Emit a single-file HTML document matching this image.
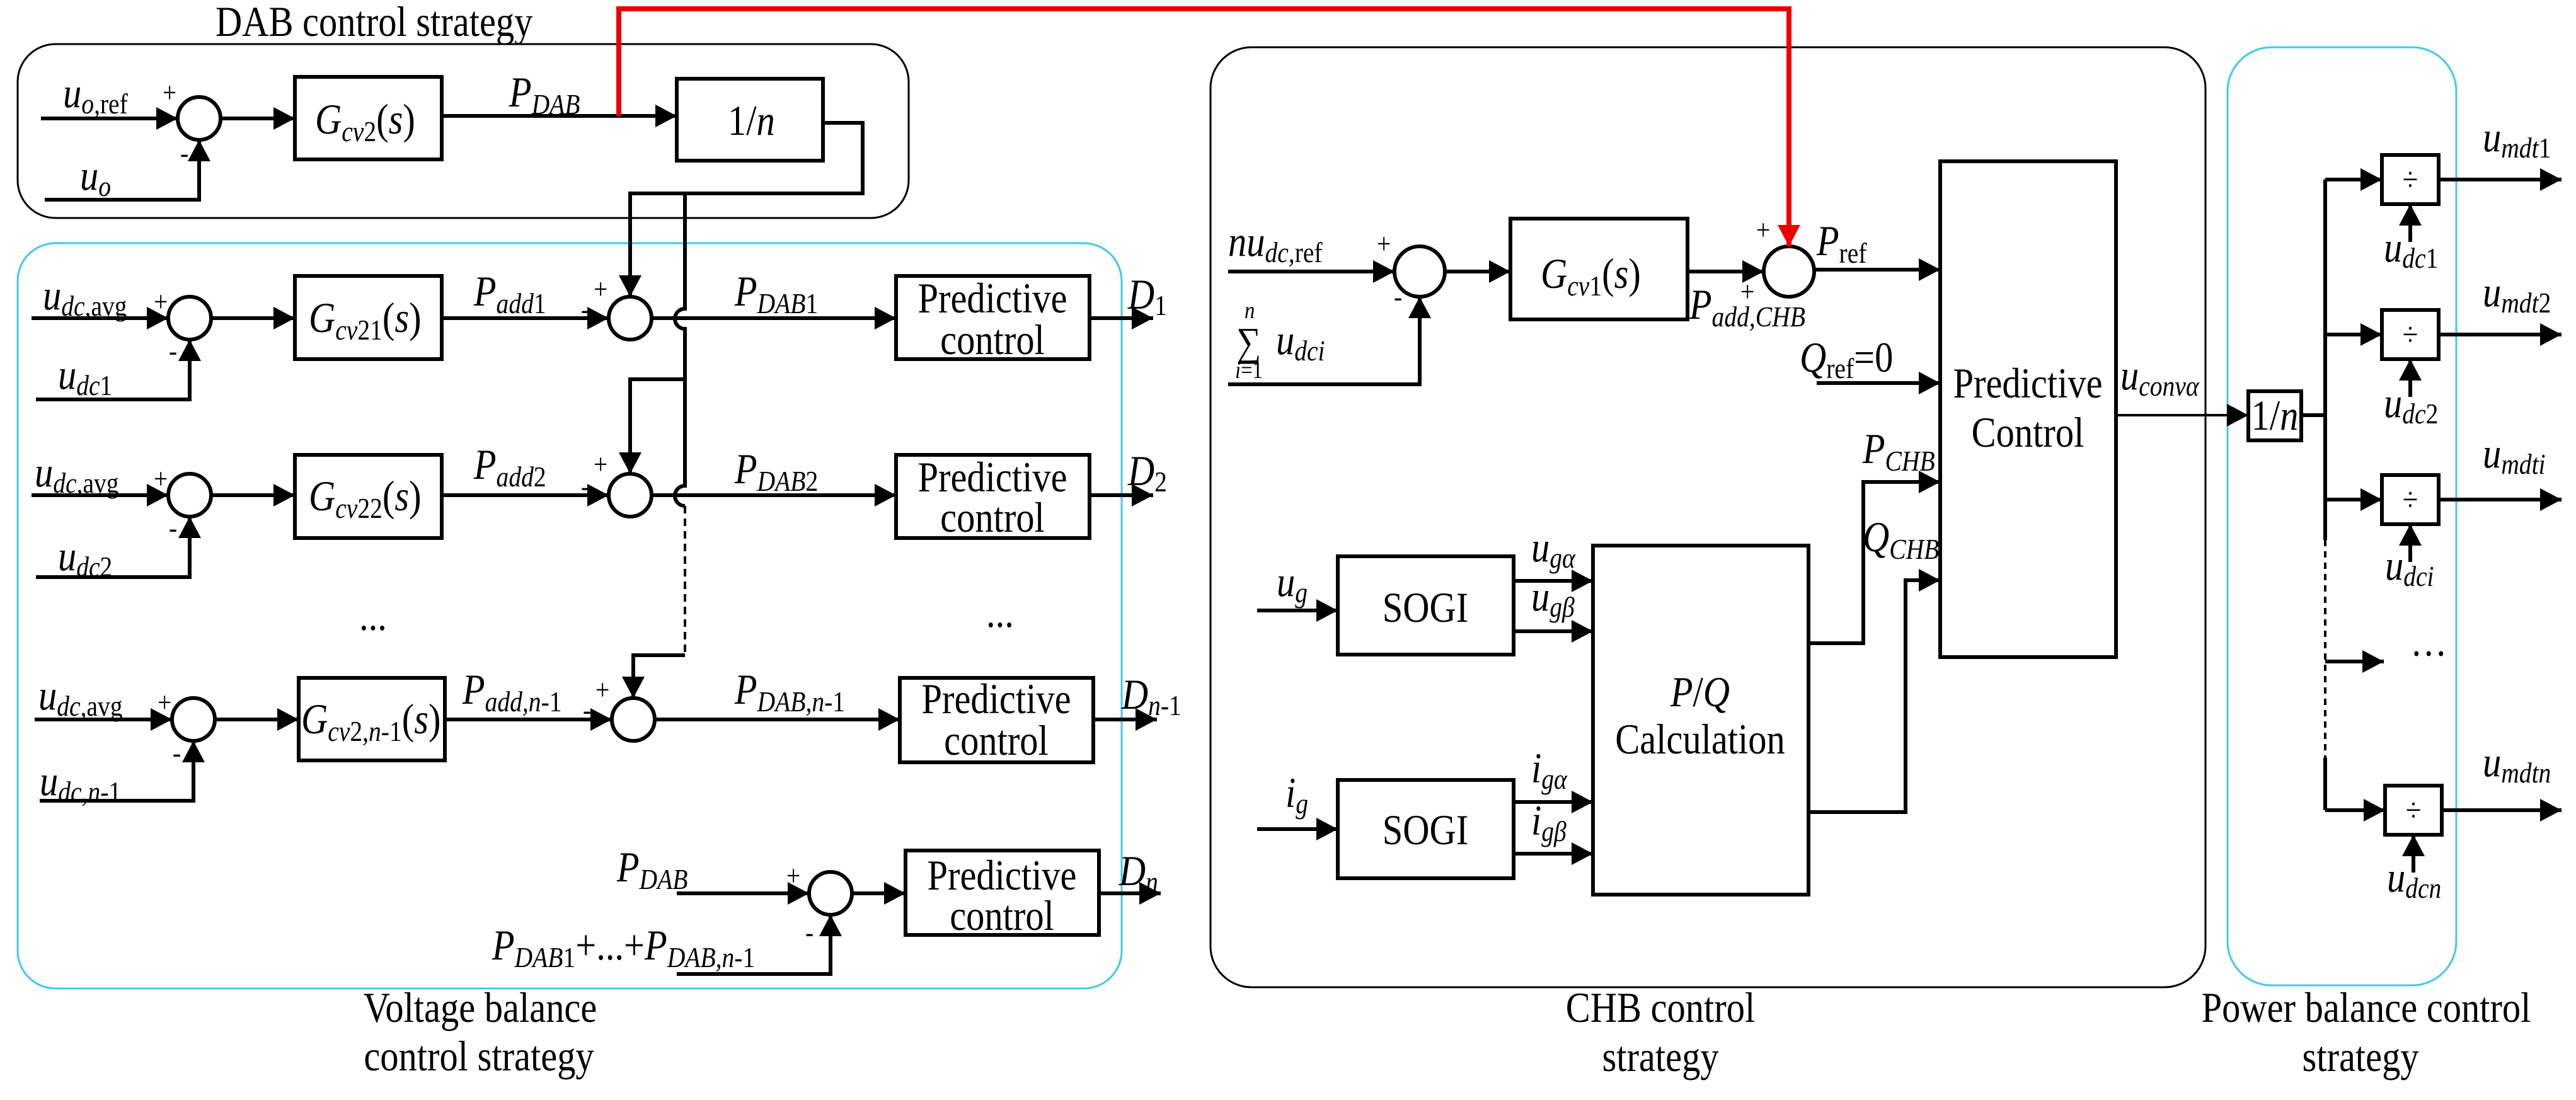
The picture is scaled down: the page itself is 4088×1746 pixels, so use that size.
<!DOCTYPE html>
<html><head><meta charset="utf-8"><style>
html,body{margin:0;padding:0;background:#fff;}
svg{display:block;}
text{font-family:"Liberation Serif","Times New Roman",serif;fill:#000;transform-box:fill-box;transform-origin:0% 50%;transform:scaleX(0.86);}
text.m{transform-origin:50% 50%;}
.i{font-style:italic;}
</style></head><body>
<svg width="4088" height="1746" viewBox="0 0 4088 1746" xmlns="http://www.w3.org/2000/svg">
<defs>
<marker id="a" markerUnits="userSpaceOnUse" markerWidth="34" markerHeight="36" refX="34" refY="18" orient="auto"><path d="M0,0 L34,18 L0,36z" fill="#000"/></marker>
<marker id="r" markerUnits="userSpaceOnUse" markerWidth="34" markerHeight="36" refX="34" refY="18" orient="auto"><path d="M0,0 L34,18 L0,36z" fill="#e00"/></marker>
</defs>
<g fill="none" stroke="#000" stroke-width="6">
<rect x="28" y="70" width="1414" height="276" rx="60" stroke-width="3"/>
<rect x="28" y="386" width="1752" height="1183" rx="60" stroke="#3ccbe8" stroke-width="3"/>
<rect x="1921" y="75" width="1579" height="1492" rx="65" stroke-width="3"/>
<rect x="3535" y="75" width="363" height="1489" rx="70" stroke="#3ccbe8" stroke-width="3"/>

<path d="M65,188 H282" marker-end="url(#a)"/>
<path d="M71,317 H316 V222" marker-end="url(#a)"/>
<circle cx="316" cy="188" r="34"/>
<path d="M350,188 H468" marker-end="url(#a)"/>
<rect x="468" y="122" width="233" height="131"/>
<path d="M701,184 H1074" marker-end="url(#a)"/>
<rect x="1074" y="125" width="232" height="130"/>
<path d="M1306,195 H1369 V307 H1000 V471" marker-end="url(#a)"/>
<path d="M1087,307 V490 A16,16 0 0 0 1087,522 V771 A16,16 0 0 0 1087,803"/>
<path d="M1087,602 H1000 V752" marker-end="url(#a)"/>
<path d="M1087,803 V1040" stroke-dasharray="12,8" stroke-width="4"/>
<path d="M1087,1040 H1005 V1108" marker-end="url(#a)"/>

<path d="M50,505 H267" marker-end="url(#a)"/>
<path d="M57,634 H301 V539" marker-end="url(#a)"/>
<circle cx="301" cy="505" r="34"/>
<path d="M335,505 H468" marker-end="url(#a)"/>
<rect x="468" y="438" width="233" height="132"/>
<path d="M701,505 H966" marker-end="url(#a)"/>
<circle cx="1000" cy="505" r="34"/>
<path d="M1034,505 H1422" marker-end="url(#a)"/>
<rect x="1422" y="438" width="307" height="132"/>
<path d="M1729,505 H1830" marker-end="url(#a)"/>

<path d="M50,786 H267" marker-end="url(#a)"/>
<path d="M57,916 H301 V820" marker-end="url(#a)"/>
<circle cx="301" cy="786" r="34"/>
<path d="M335,786 H468" marker-end="url(#a)"/>
<rect x="468" y="722" width="233" height="132"/>
<path d="M701,786 H966" marker-end="url(#a)"/>
<circle cx="1000" cy="786" r="34"/>
<path d="M1034,786 H1422" marker-end="url(#a)"/>
<rect x="1422" y="722" width="307" height="132"/>
<path d="M1729,786 H1830" marker-end="url(#a)"/>

<path d="M55,1142 H273" marker-end="url(#a)"/>
<path d="M63,1271 H307 V1176" marker-end="url(#a)"/>
<circle cx="307" cy="1142" r="34"/>
<path d="M341,1142 H474" marker-end="url(#a)"/>
<rect x="474" y="1076" width="232" height="131"/>
<path d="M706,1142 H971" marker-end="url(#a)"/>
<circle cx="1005" cy="1142" r="34"/>
<path d="M1039,1142 H1428" marker-end="url(#a)"/>
<rect x="1428" y="1076" width="307" height="134"/>
<path d="M1735,1142 H1836" marker-end="url(#a)"/>

<path d="M1074,1418 H1284" marker-end="url(#a)"/>
<path d="M1074,1546 H1318 V1452" marker-end="url(#a)"/>
<circle cx="1318" cy="1418" r="34"/>
<path d="M1352,1418 H1437" marker-end="url(#a)"/>
<rect x="1437" y="1350" width="307" height="134"/>
<path d="M1744,1418 H1842" marker-end="url(#a)"/>

<path d="M1949,431 H2213" marker-end="url(#a)"/>
<path d="M1949,610 H2253 V471" marker-end="url(#a)"/>
<circle cx="2253" cy="431" r="40"/>
<path d="M2293,431 H2397" marker-end="url(#a)"/>
<rect x="2397" y="347" width="281" height="160"/>
<path d="M2678,431 H2799" marker-end="url(#a)"/>
<circle cx="2839" cy="431" r="40"/>
<path d="M2879,428 H3079" marker-end="url(#a)"/>
<path d="M2883,608 H3079" marker-end="url(#a)"/>
<rect x="3079" y="256" width="279" height="787"/>
<path d="M2870,1021 H2957 V765 H3079" marker-end="url(#a)"/>
<path d="M2870,1289 H3024 V921 H3079" marker-end="url(#a)"/>
<rect x="2123" y="883" width="279" height="156"/>
<path d="M1995,969 H2123" marker-end="url(#a)"/>
<path d="M2402,922 H2528" marker-end="url(#a)"/>
<path d="M2402,1002 H2528" marker-end="url(#a)"/>
<rect x="2528" y="866" width="342" height="554"/>
<rect x="2123" y="1238" width="279" height="156"/>
<path d="M1995,1316 H2123" marker-end="url(#a)"/>
<path d="M2402,1273 H2528" marker-end="url(#a)"/>
<path d="M2402,1355 H2528" marker-end="url(#a)"/>

<path d="M3358,659 H3568" marker-end="url(#a)" stroke-width="4"/>
<rect x="3568" y="621" width="84" height="78"/>
<path d="M3652,659 H3690"/>
<path d="M3690,285 V857"/>
<path d="M3690,857 V1203" stroke-dasharray="10,8" stroke-width="4"/>
<path d="M3690,1203 V1286"/>
<path d="M3690,285 H3780" marker-end="url(#a)"/>
<path d="M3690,531 H3780" marker-end="url(#a)"/>
<path d="M3690,793 H3780" marker-end="url(#a)"/>
<path d="M3690,1050 H3783" marker-end="url(#a)"/>
<path d="M3690,1286 H3785" marker-end="url(#a)"/>
<rect x="3780" y="246" width="90" height="78"/>
<rect x="3780" y="492" width="90" height="78"/>
<rect x="3780" y="754" width="90" height="78"/>
<rect x="3785" y="1247" width="90" height="78"/>
<path d="M3825,384 V324" marker-end="url(#a)"/>
<path d="M3825,630 V570" marker-end="url(#a)"/>
<path d="M3825,892 V832" marker-end="url(#a)"/>
<path d="M3830,1385 V1325" marker-end="url(#a)"/>
<path d="M3870,285 H4065" marker-end="url(#a)"/>
<path d="M3870,531 H4065" marker-end="url(#a)"/>
<path d="M3870,793 H4065" marker-end="url(#a)"/>
<path d="M3875,1286 H4065" marker-end="url(#a)"/>

<path d="M982,184 V14 H2839 V391" stroke="#e00" stroke-width="8" marker-end="url(#r)"/>
</g>

<g font-size="68">
<text x="342" y="57">DAB control strategy</text>
<text class="i" x="100" y="170">u<tspan font-size="46" dy="10">o,</tspan><tspan font-size="46" font-style="normal">ref</tspan></text>
<text x="258" y="162" font-size="46">+</text>
<text x="286" y="258" font-size="46">-</text>
<text class="i" x="127" y="301">u<tspan font-size="46" dy="10">o</tspan></text>
<text class="i" x="500" y="212">G<tspan font-size="46" dy="12">cv</tspan><tspan font-size="46" font-style="normal">2</tspan><tspan dy="-12" font-style="normal">(</tspan>s<tspan font-style="normal">)</tspan></text>
<text class="i" x="808" y="169">P<tspan font-size="46" dy="12">DAB</tspan></text>
<text x="1155" y="214">1/<tspan class="i">n</tspan></text>

<text class="i" x="68" y="491">u<tspan font-size="46" dy="10">dc,</tspan><tspan font-size="46" font-style="normal">avg</tspan></text>
<text x="244" y="494" font-size="46">+</text>
<text x="268" y="572" font-size="46">-</text>
<text class="i" x="92" y="617">u<tspan font-size="46" dy="10">dc</tspan><tspan font-size="46" font-style="normal">1</tspan></text>
<text class="i" x="490" y="527">G<tspan font-size="46" dy="12">cv</tspan><tspan font-size="46" font-style="normal">21</tspan><tspan dy="-12" font-style="normal">(</tspan>s<tspan font-style="normal">)</tspan></text>
<text class="i" x="752" y="485">P<tspan font-size="46" dy="12">add</tspan><tspan font-size="46" font-style="normal">1</tspan></text>
<text x="942" y="474" font-size="46">+</text>
<text x="922" y="506" font-size="46">-</text>
<text class="i" x="1166" y="485">P<tspan font-size="46" dy="12">DAB</tspan><tspan font-size="46" font-style="normal">1</tspan></text>
<text class="m" x="1575" y="496" text-anchor="middle">Predictive</text>
<text class="m" x="1575" y="562" text-anchor="middle">control</text>
<text class="i" x="1790" y="490">D<tspan font-size="46" dy="10" font-style="normal">1</tspan></text>

<text class="i" x="55" y="772">u<tspan font-size="46" dy="10">dc,</tspan><tspan font-size="46" font-style="normal">avg</tspan></text>
<text x="244" y="775" font-size="46">+</text>
<text x="268" y="853" font-size="46">-</text>
<text class="i" x="92" y="905">u<tspan font-size="46" dy="10">dc</tspan><tspan font-size="46" font-style="normal">2</tspan></text>
<text class="i" x="490" y="810">G<tspan font-size="46" dy="12">cv</tspan><tspan font-size="46" font-style="normal">22</tspan><tspan dy="-12" font-style="normal">(</tspan>s<tspan font-style="normal">)</tspan></text>
<text class="i" x="752" y="760">P<tspan font-size="46" dy="12">add</tspan><tspan font-size="46" font-style="normal">2</tspan></text>
<text x="942" y="752" font-size="46">+</text>
<text x="922" y="787" font-size="46">-</text>
<text class="i" x="1166" y="767">P<tspan font-size="46" dy="12">DAB</tspan><tspan font-size="46" font-style="normal">2</tspan></text>
<text class="m" x="1575" y="780" text-anchor="middle">Predictive</text>
<text class="m" x="1575" y="844" text-anchor="middle">control</text>
<text class="i" x="1790" y="770">D<tspan font-size="46" dy="10" font-style="normal">2</tspan></text>

<text x="570" y="1000">...</text>
<text x="1565" y="995">...</text>

<text class="i" x="61" y="1126">u<tspan font-size="46" dy="10">dc,</tspan><tspan font-size="46" font-style="normal">avg</tspan></text>
<text x="250" y="1130" font-size="46">+</text>
<text x="274" y="1210" font-size="46">-</text>
<text class="i" x="63" y="1262">u<tspan font-size="46" dy="10">dc,n</tspan><tspan font-size="46" font-style="normal">-1</tspan></text>
<text class="i" x="478" y="1164">G<tspan font-size="46" dy="12">cv</tspan><tspan font-size="46" font-style="normal">2,</tspan><tspan font-size="46">n</tspan><tspan font-size="46" font-style="normal">-1</tspan><tspan dy="-12" font-style="normal">(</tspan>s<tspan font-style="normal">)</tspan></text>
<text class="i" x="734" y="1117">P<tspan font-size="46" dy="12">add,n</tspan><tspan font-size="46" font-style="normal">-1</tspan></text>
<text x="945" y="1110" font-size="46">+</text>
<text x="925" y="1142" font-size="46">-</text>
<text class="i" x="1166" y="1117">P<tspan font-size="46" dy="12">DAB,n</tspan><tspan font-size="46" font-style="normal">-1</tspan></text>
<text class="m" x="1581" y="1132" text-anchor="middle">Predictive</text>
<text class="m" x="1581" y="1198" text-anchor="middle">control</text>
<text class="i" x="1780" y="1125">D<tspan font-size="46" dy="10">n</tspan><tspan font-size="46" font-style="normal">-1</tspan></text>

<text class="i" x="979" y="1399">P<tspan font-size="46" dy="12">DAB</tspan></text>
<text x="1248" y="1405" font-size="46">+</text>
<text x="1278" y="1495" font-size="46">-</text>
<text class="i" x="781" y="1523">P<tspan font-size="46" dy="12">DAB</tspan><tspan font-size="46" font-style="normal">1</tspan><tspan dy="-12" font-style="normal">+...+</tspan>P<tspan font-size="46" dy="12">DAB,n</tspan><tspan font-size="46" font-style="normal">-1</tspan></text>
<text class="m" x="1590" y="1412" text-anchor="middle">Predictive</text>
<text class="m" x="1590" y="1476" text-anchor="middle">control</text>
<text class="i" x="1776" y="1405">D<tspan font-size="46" dy="10">n</tspan></text>

<text class="m" x="762" y="1622" text-anchor="middle">Voltage balance</text>
<text class="m" x="760" y="1699" text-anchor="middle">control strategy</text>

<text class="i" x="1949" y="406">nu<tspan font-size="46" dy="10">dc,</tspan><tspan font-size="46" font-style="normal">ref</tspan></text>
<text x="2185" y="402" font-size="46">+</text>
<text x="2212" y="486" font-size="46">-</text>
<text x="1962" y="564" font-size="64">∑</text>
<text class="i" x="1975" y="505" font-size="38">n</text>
<text class="i" x="1960" y="600" font-size="38">i<tspan font-style="normal">=1</tspan></text>
<text class="i" x="2025" y="562">u<tspan font-size="46" dy="10">dci</tspan></text>
<text class="i" x="2445" y="457">G<tspan font-size="46" dy="12">cv</tspan><tspan font-size="46" font-style="normal">1</tspan><tspan dy="-12" font-style="normal">(</tspan>s<tspan font-style="normal">)</tspan></text>
<text x="2787" y="380" font-size="46">+</text>
<text x="2762" y="478" font-size="46">+</text>
<text class="i" x="2681" y="506">P<tspan font-size="46" dy="12">add,CHB</tspan></text>
<text class="i" x="2883" y="405">P<tspan font-size="46" dy="12" font-style="normal">ref</tspan></text>
<text class="i" x="2856" y="590">Q<tspan font-size="46" dy="10" font-style="normal">ref</tspan><tspan dy="-10" font-style="normal">=0</tspan></text>
<text class="i" x="2956" y="735">P<tspan font-size="46" dy="12">CHB</tspan></text>
<text class="i" x="2956" y="875">Q<tspan font-size="46" dy="12">CHB</tspan></text>
<text class="m" x="3218" y="631" text-anchor="middle">Predictive</text>
<text class="m" x="3218" y="709" text-anchor="middle">Control</text>
<text class="i" x="2026" y="946">u<tspan font-size="46" dy="10">g</tspan></text>
<text class="m" x="2262" y="987" text-anchor="middle">SOGI</text>
<text class="i" x="2430" y="891">u<tspan font-size="46" dy="10">gα</tspan></text>
<text class="i" x="2430" y="969">u<tspan font-size="46" dy="10">gβ</tspan></text>
<text class="i" x="2040" y="1281">i<tspan font-size="46" dy="10">g</tspan></text>
<text class="m" x="2262" y="1340" text-anchor="middle">SOGI</text>
<text class="i" x="2430" y="1242">i<tspan font-size="46" dy="10">gα</tspan></text>
<text class="i" x="2430" y="1325">i<tspan font-size="46" dy="10">gβ</tspan></text>
<text class="m" x="2698" y="1121" text-anchor="middle"><tspan class="i">P</tspan>/<tspan class="i">Q</tspan></text>
<text class="m" x="2698" y="1196" text-anchor="middle">Calculation</text>
<text class="i" x="3365" y="618">u<tspan font-size="46" dy="10">convα</tspan></text>
<text class="m" x="2635" y="1622" text-anchor="middle">CHB control</text>
<text class="m" x="2635" y="1700" text-anchor="middle">strategy</text>

<text class="m" x="3610" y="682" text-anchor="middle">1/<tspan class="i">n</tspan></text>
<text class="m" x="3825" y="302" text-anchor="middle" font-size="52">÷</text>
<text class="m" x="3825" y="548" text-anchor="middle" font-size="52">÷</text>
<text class="m" x="3825" y="810" text-anchor="middle" font-size="52">÷</text>
<text class="m" x="3830" y="1303" text-anchor="middle" font-size="52">÷</text>
<text x="3825" y="1060">···</text>
<text class="i" x="3783" y="415">u<tspan font-size="46" dy="10">dc</tspan><tspan font-size="46" font-style="normal">1</tspan></text>
<text class="i" x="3783" y="662">u<tspan font-size="46" dy="10">dc</tspan><tspan font-size="46" font-style="normal">2</tspan></text>
<text class="i" x="3785" y="920">u<tspan font-size="46" dy="10">dci</tspan></text>
<text class="i" x="3788" y="1415">u<tspan font-size="46" dy="10">dcn</tspan></text>
<text class="i" x="3940" y="240">u<tspan font-size="46" dy="10">mdt</tspan><tspan font-size="46" font-style="normal">1</tspan></text>
<text class="i" x="3940" y="486">u<tspan font-size="46" dy="10">mdt</tspan><tspan font-size="46" font-style="normal">2</tspan></text>
<text class="i" x="3940" y="742">u<tspan font-size="46" dy="10">mdti</tspan></text>
<text class="i" x="3940" y="1232">u<tspan font-size="46" dy="10">mdtn</tspan></text>
<text class="m" x="3755" y="1622" text-anchor="middle">Power balance control</text>
<text class="m" x="3746" y="1700" text-anchor="middle">strategy</text>
</g>
</svg>
</body></html>
